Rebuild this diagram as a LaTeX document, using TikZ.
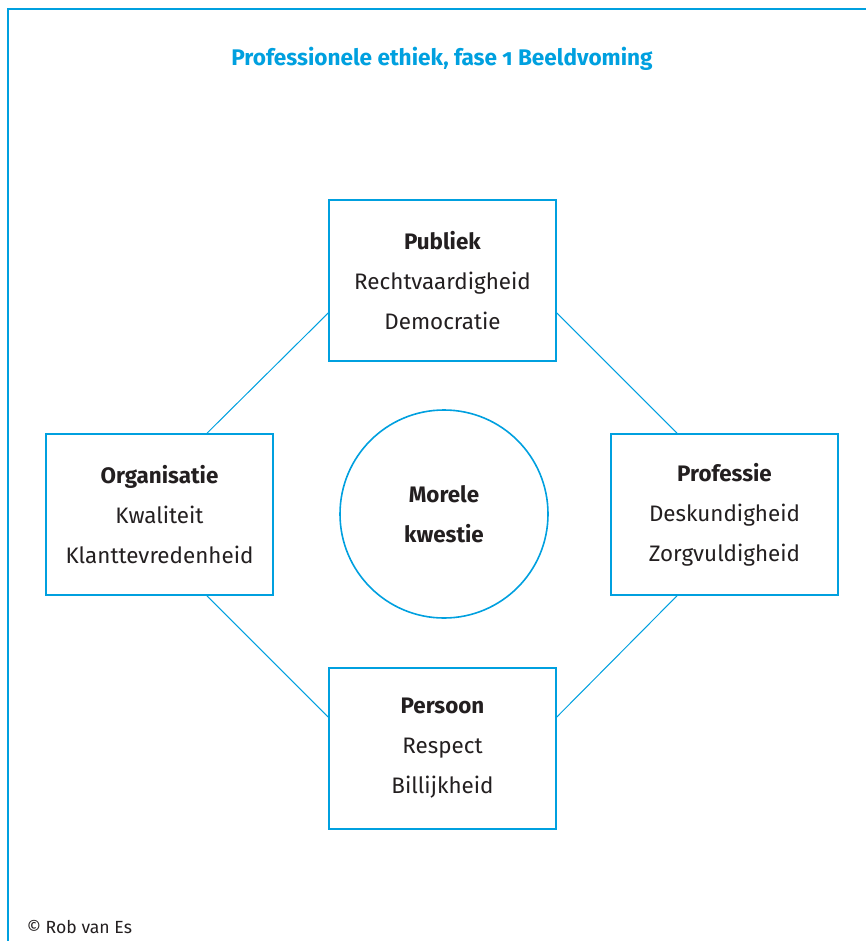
\documentclass[tikz,border=0pt]{standalone}
\usepackage{fontspec}
\setmainfont{Fira Sans}[Numbers=OldStyle]
\usepackage{tikz}
\usepackage{xcolor}
\definecolor{ethblue}{RGB}{0,160,223}
\definecolor{ethtext}{RGB}{35,31,32}

\begin{document}
\begin{tikzpicture}[x=0.5pt,y=-0.5pt,thick]
  \tikzstyle{pole}=[rectangle,draw=ethblue,line width=0.8pt,fill=white,text=ethtext,
    minimum width=113.5pt,minimum height=80.5pt,align=center,
    font=\fontsize{11.2}{20}\selectfont]
  \tikzstyle{kern}=[circle,draw=ethblue,line width=0.8pt,text=ethtext,
    minimum size=104pt,align=center,font=\fontsize{11.2}{20}\selectfont\bfseries]
  \tikzstyle{link}=[draw=ethblue,line width=0.5pt]
  \useasboundingbox (0,0) rectangle (866,941);
  % kader
  \coordinate(frame-bl) at (8,941);
  \coordinate(frame-tl) at (8,9);
  \coordinate(frame-tr) at (866,9);
  \draw[ethblue,line width=1pt](frame-bl)--(frame-tl)--(frame-tr);
  \node(title) at (442,59)[text=ethblue,font=\fontsize{11.3}{12}\selectfont\bfseries]{Professionele ethiek, fase \addfontfeatures{Numbers=OldStyle}1 Beeldvoming};
  % vier polen en kern
  \node(pub) at (442.5,280.5)[pole]{\textbf{Publiek}\\Rechtvaardigheid\\Democratie};
  \node(org) at (159.5,514.5)[pole]{\textbf{Organisatie}\\Kwaliteit\\Klanttevredenheid};
  \node(prof) at (724.5,514.5)[pole]{\textbf{Professie}\\Deskundigheid\\Zorgvuldigheid};
  \node(pers) at (442.5,748.5)[pole]{\textbf{Persoon}\\Respect\\Billijkheid};
  \node(core) at (444,514)[kern]{Morele\\kwestie};
  \draw[link]([yshift=-16.25pt]pub.west)--([xshift=23.75pt]org.north);
  \draw[link]([yshift=-16.25pt]pub.east)--([xshift=-23.75pt]prof.north);
  \draw[link]([xshift=23.75pt]org.south)--([yshift=15.75pt]pers.west);
  \draw[link]([xshift=-23.75pt]prof.south)--([yshift=15.75pt]pers.east);
  \node(credit) at (26,927)[anchor=west,inner sep=0pt,text=ethtext,font=\fontsize{8.8}{10}\selectfont]{© Rob van Es};
\end{tikzpicture}
\end{document}
